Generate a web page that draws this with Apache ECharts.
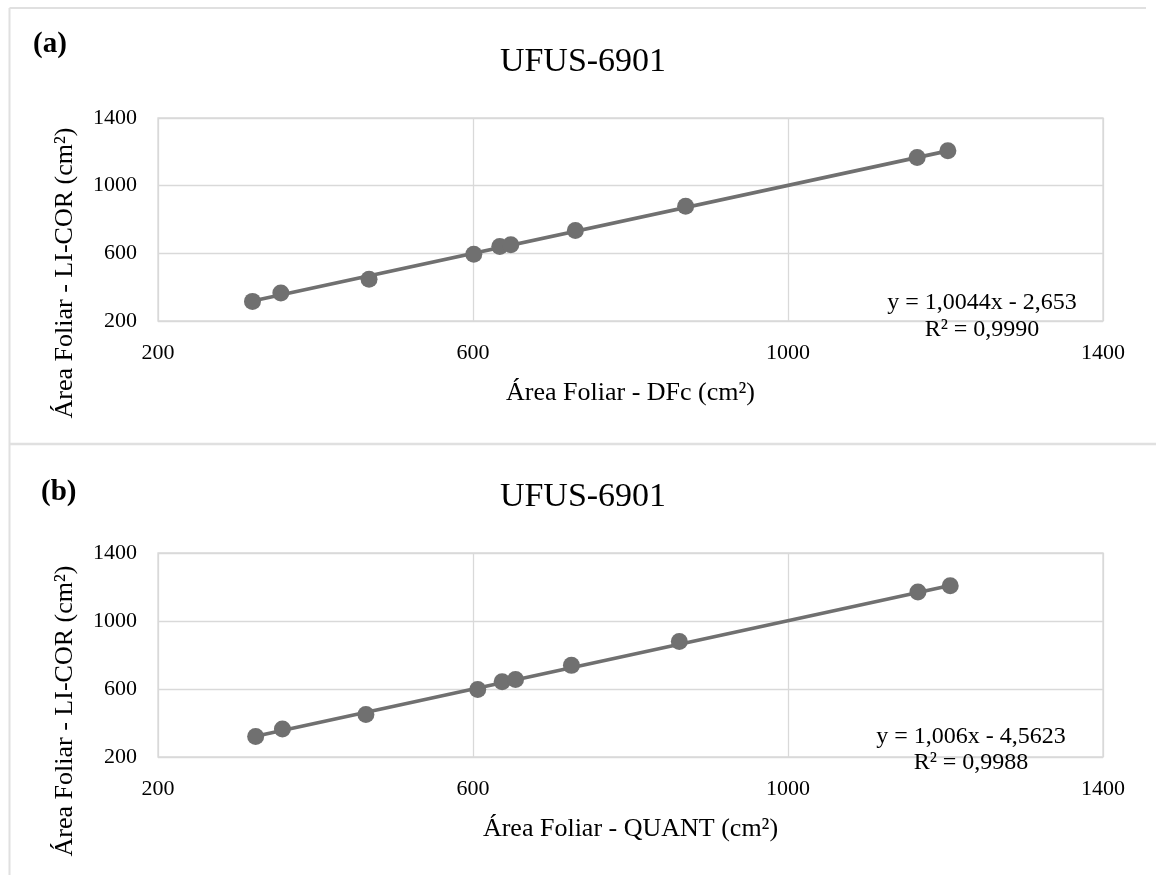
<!DOCTYPE html>
<html><head><meta charset="utf-8">
<script src="https://cdn.jsdelivr.net/npm/echarts@6/dist/echarts.min.js"></script>
<style>html,body{margin:0;padding:0;background:#fff}#c{width:1156px;height:875px}</style>
</head><body><div id="c"></div>
<script>
// ---- data ----
const xTicks = [200, 600, 1000, 1400];
const yTicks = [200, 600, 1000, 1400];
const dfcX   = [320, 356, 468, 601, 634, 648, 730, 870, 1164, 1203];
const dfcY   = [316, 366, 447, 595, 641, 651, 735, 879, 1166, 1206];
const quantX = [324, 358, 464, 606, 637, 654, 725, 862, 1165, 1206];
const quantY = [320, 365, 450, 597, 643, 656, 739, 880, 1170, 1207];
const fitA = [1.0044, -2.653];   // slope, intercept (panel a)
const fitB = [1.006, -4.5623];   // slope, intercept (panel b)
const panelLabels = ['(a)', '(b)'];
const chartTitles = ['UFUS-6901', 'UFUS-6901'];
const xNames = ['Área Foliar - DFc (cm²)', 'Área Foliar - QUANT (cm²)'];
const yNames = ['Área Foliar - LI-COR (cm²)', 'Área Foliar - LI-COR (cm²)'];
const eqLines = [['y = 1,0044x - 2,653', 'R² = 0,9990'], ['y = 1,006x - 4,5623', 'R² = 0,9988']];

// ---- chart ----
const FONT = '"Liberation Serif", "Times New Roman", serif';
const GREY = '#707070';
const GRID = '#d9d9d9';
const chart = echarts.init(document.getElementById('c'), null, {renderer: 'canvas'});

const pts = (xs, ys) => xs.map((x, i) => [x, ys[i]]);
const trend = (xs, f) => {
  const lo = Math.min(...xs), hi = Math.max(...xs);
  return [[lo, f[0] * lo + f[1]], [hi, f[0] * hi + f[1]]];
};

const grids = [
  {left: 158, width: 945, top: 118, height: 203},
  {left: 158, width: 945, top: 553, height: 204}
];
const panelTops = [118, 553];
const plain = v => String(v);

function xAxis(i) {
  return {
    gridIndex: i, type: 'value',
    min: xTicks[0], max: xTicks[xTicks.length - 1], interval: xTicks[1] - xTicks[0],
    axisLine: {show: false}, axisTick: {show: false},
    splitLine: {show: true, lineStyle: {color: GRID, width: 1.3}},
    axisLabel: {fontFamily: FONT, fontSize: 22, color: '#000', margin: 21, formatter: plain},
    name: xNames[i], nameLocation: 'middle', nameGap: 59,
    nameTextStyle: {fontFamily: FONT, fontSize: 26, color: '#000'}
  };
}
function yAxis(i) {
  return {
    gridIndex: i, type: 'value',
    min: yTicks[0], max: yTicks[yTicks.length - 1], interval: yTicks[1] - yTicks[0],
    axisLine: {show: false}, axisTick: {show: false},
    splitLine: {show: true, lineStyle: {color: GRID, width: 1.3}},
    axisLabel: {fontFamily: FONT, fontSize: 22, color: '#000', margin: 21, formatter: plain}
  };
}

const graphic = [
  // panel frame lines
  {type: 'line', shape: {x1: 9.5, y1: 8, x2: 1146, y2: 8}, style: {stroke: '#e0e0e0', lineWidth: 2}},
  {type: 'line', shape: {x1: 9.5, y1: 8, x2: 9.5, y2: 875}, style: {stroke: '#e0e0e0', lineWidth: 2}},
  {type: 'line', shape: {x1: 9.5, y1: 444, x2: 1156, y2: 444}, style: {stroke: '#e0e0e0', lineWidth: 2.5}}
];
const labelPos = [[33, 45], [41, 493]];
const yNamePos = [[65, 273], [65, 711]];
const eqPos = [[982, 303, 330], [971, 737, 763]];
for (let i = 0; i < 2; i++) {
  graphic.push({type: 'text', x: labelPos[i][0], y: labelPos[i][1],
    style: {text: panelLabels[i], fontFamily: FONT, fontSize: 29, fontWeight: 'bold', fill: '#000', align: 'left', verticalAlign: 'middle'}});
  graphic.push({type: 'text', x: 583, y: panelTops[i] - 56,
    style: {text: chartTitles[i], fontFamily: FONT, fontSize: 34, fill: '#000', align: 'center', verticalAlign: 'middle'}});
  graphic.push({type: 'text', x: yNamePos[i][0], y: yNamePos[i][1], rotation: Math.PI / 2,
    style: {text: yNames[i], fontFamily: FONT, fontSize: 26, fill: '#000', align: 'center', verticalAlign: 'middle'}});
  graphic.push({type: 'text', x: eqPos[i][0], y: eqPos[i][1], z: 10,
    style: {text: eqLines[i][0], fontFamily: FONT, fontSize: 24, fill: '#000', align: 'center', verticalAlign: 'middle'}});
  graphic.push({type: 'text', x: eqPos[i][0], y: eqPos[i][2], z: 10,
    style: {text: eqLines[i][1], fontFamily: FONT, fontSize: 24, fill: '#000', align: 'center', verticalAlign: 'middle'}});
}

chart.setOption({
  animation: false,
  backgroundColor: '#fff',
  grid: grids.map(g => Object.assign({show: true, borderColor: GRID, borderWidth: 1.3, backgroundColor: 'transparent'}, g)),
  xAxis: [xAxis(0), xAxis(1)],
  yAxis: [yAxis(0), yAxis(1)],
  series: [
    {type: 'line', xAxisIndex: 0, yAxisIndex: 0, data: trend(dfcX, fitA), showSymbol: false, symbol: 'none',
      lineStyle: {color: GREY, width: 3.6}, z: 2},
    {type: 'scatter', xAxisIndex: 0, yAxisIndex: 0, data: pts(dfcX, dfcY), symbol: 'circle', symbolSize: 17,
      itemStyle: {color: GREY, opacity: 1}, z: 3},
    {type: 'line', xAxisIndex: 1, yAxisIndex: 1, data: trend(quantX, fitB), showSymbol: false, symbol: 'none',
      lineStyle: {color: GREY, width: 3.6}, z: 2},
    {type: 'scatter', xAxisIndex: 1, yAxisIndex: 1, data: pts(quantX, quantY), symbol: 'circle', symbolSize: 17,
      itemStyle: {color: GREY, opacity: 1}, z: 3}
  ],
  graphic: graphic
});
</script></body></html>
